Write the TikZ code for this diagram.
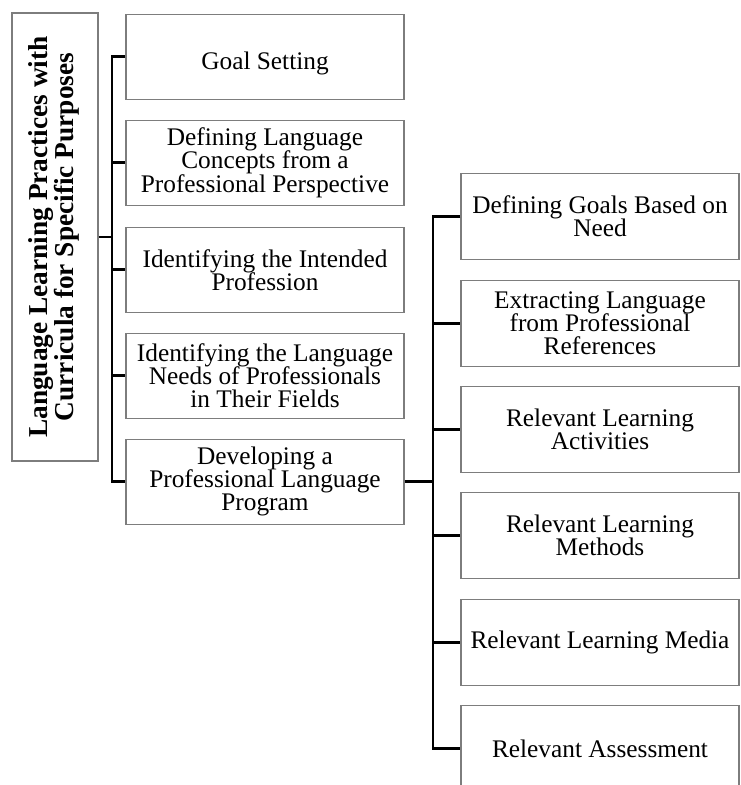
\documentclass[tikz,border=0pt]{standalone}
\usepackage{fontspec}
\setmainfont{Liberation Serif}
\definecolor{boxgray}{RGB}{125,125,125}
\lineskiplimit=-30pt
\begin{document}
\begin{tikzpicture}[x=0.75pt,y=-0.75pt,
  box/.style={draw=boxgray,line width=0.8pt,inner sep=0pt,minimum width=208.5pt,minimum height=64pt,align=center,font={\fontsize{19}{17.3}\selectfont}},
  rootbox/.style={draw=boxgray,line width=0.8pt,inner sep=0pt,minimum width=64.5pt,minimum height=336pt},
  conn/.style={draw=black,line width=2pt,line join=miter}]
\lineskiplimit=-30pt\relax
\clip (0,0) rectangle (740,785);
\fill[white] (0,0) rectangle (740,785);
% root
\node[rootbox] (root) at (55,237) {};
\node[rotate=90,align=center,font={\fontsize{20.5}{19}\selectfont\bfseries}] (roottext) at (54,237) {Language Learning Practices with\\Curricula for Specific Purposes};
% left column
\node[box] (l1) at (265,56.75) {\raisebox{-9.5pt}[0pt][0pt]{Goal Setting}};
\node[box] (l2) at (265,162.75) {Defining Language\\Concepts from a\\Professional Perspective};
\node[box] (l3) at (265,269.75) {Identifying the Intended\\Profession};
\node[box] (l4) at (265,375.75) {Identifying the Language\\Needs of Professionals\\in Their Fields};
\node[box] (l5) at (265,481.75) {Developing a\\Professional Language\\Program};
% right column
\node[box] (r1) at (600,216.5) {Defining Goals Based on\\Need};
\node[box] (r2) at (600,323.5) {Extracting Language\\from Professional\\References};
\node[box] (r3) at (600,429.5) {Relevant Learning\\Activities};
\node[box] (r4) at (600,535.5) {Relevant Learning\\Methods};
\node[box] (r5) at (600,642.5) {Relevant Learning Media};
\node[box] (r6) at (600,748.5) {Relevant Assessment};
% connectors from root
\coordinate (rj) at (112,237);
\draw[conn] (root.east) -- (rj);
\draw[conn] (l1.west) -- (l1.west -| rj) -- (l5.west -| rj) -- (l5.west);
\foreach \n in {l2,l3,l4} \draw[conn] (\n.west -| rj) -- (\n.west);
% connectors from l5
\coordinate (sj) at (433,481.75);
\draw[conn] (l5.east) -- (sj);
\draw[conn] (r1.west) -- (r1.west -| sj) -- (r6.west -| sj) -- (r6.west);
\foreach \n in {r2,r3,r4,r5} \draw[conn] (\n.west -| sj) -- (\n.west);
\end{tikzpicture}
\end{document}
